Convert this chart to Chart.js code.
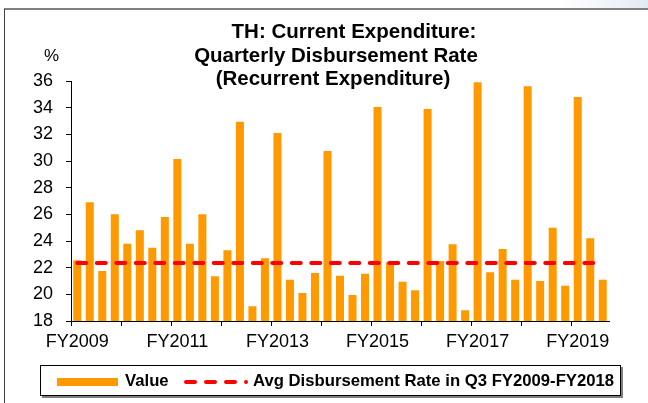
<!DOCTYPE html>
<html>
<head>
<meta charset="utf-8">
<script src="https://cdn.jsdelivr.net/npm/chart.js@4"></script>
<style>
    body { margin: 0; background: #fff; }
    #wrap { position: relative; width: 648px; height: 403px; overflow: hidden; font-family: 'Liberation Sans', Arial, sans-serif; }
    #chart { position: absolute; left: 0; top: 0; }
    .title-line { position: absolute; width: 400px; text-align: center; font-weight: bold; font-size: 20.5px; line-height: 23px; color: #000; white-space: nowrap; }
    .unit { position: absolute; left: 44px; top: 46px; font-size: 17px; color: #000; }
    .legend { position: absolute; left: 40px; top: 365px; width: 579px; height: 29px; border: 1px solid #000; box-shadow: 2px 2px 0 #7f7f7f; background: #fff; }
    .legend .swatch { position: absolute; left: 16px; top: 12px; width: 61px; height: 8px; background: #FF9900; }
    .legend .txt { position: absolute; top: 5px; font-size: 16.7px; font-weight: bold; color: #000; white-space: nowrap; }
    .legend svg { position: absolute; left: 142px; top: 11px; }
</style>
</head>
<body>
<div id="wrap">
    <canvas id="chart" width="648" height="403"></canvas>
    <div class="title-line" style="left: 154px; top: 19px;">TH: Current Expenditure:</div>
    <div class="title-line" style="left: 136px; top: 43px;">Quarterly Disbursement Rate</div>
    <div class="title-line" style="left: 133px; top: 66px;">(Recurrent Expenditure)</div>
    <div class="unit">%</div>
    <div class="legend">
        <div class="swatch"></div>
        <div class="txt" style="left: 84px;">Value</div>
        <svg width="66" height="10"><line x1="3" y1="5" x2="63.01" y2="5" stroke="#FF0000" stroke-width="4" stroke-linecap="round" stroke-dasharray="9 11"/></svg>
        <div class="txt" style="left: 212px;">Avg Disbursement Rate in Q3 FY2009-FY2018</div>
    </div>
</div>
<script>
// quarters FY2009 Q1 .. FY2019 Q3
const categories = [
    'FY2009 Q1', 'FY2009 Q2', 'FY2009 Q3', 'FY2009 Q4',
    'FY2010 Q1', 'FY2010 Q2', 'FY2010 Q3', 'FY2010 Q4',
    'FY2011 Q1', 'FY2011 Q2', 'FY2011 Q3', 'FY2011 Q4',
    'FY2012 Q1', 'FY2012 Q2', 'FY2012 Q3', 'FY2012 Q4',
    'FY2013 Q1', 'FY2013 Q2', 'FY2013 Q3', 'FY2013 Q4',
    'FY2014 Q1', 'FY2014 Q2', 'FY2014 Q3', 'FY2014 Q4',
    'FY2015 Q1', 'FY2015 Q2', 'FY2015 Q3', 'FY2015 Q4',
    'FY2016 Q1', 'FY2016 Q2', 'FY2016 Q3', 'FY2016 Q4',
    'FY2017 Q1', 'FY2017 Q2', 'FY2017 Q3', 'FY2017 Q4',
    'FY2018 Q1', 'FY2018 Q2', 'FY2018 Q3', 'FY2018 Q4',
    'FY2019 Q1', 'FY2019 Q2', 'FY2019 Q3'
];

const values = [
    22.55, 26.9, 21.75, 26.0,
    23.8, 24.8, 23.5, 25.8,
    30.15, 23.8, 26.0, 21.35,
    23.3, 32.95, 19.1, 22.7,
    32.1, 21.1, 20.1, 21.6,
    30.75, 21.4, 19.95, 21.55,
    34.05, 22.4, 20.95, 20.3,
    33.9, 22.5, 23.75, 18.8,
    35.9, 21.65, 23.4, 21.1,
    35.6, 21.0, 25.0, 20.65,
    34.8, 24.2, 21.1
];

const avgRate = 22.35;
const avgLine = categories.map(() => avgRate);

const xTickLabels = ['FY2009', 'FY2011', 'FY2013', 'FY2015', 'FY2017', 'FY2019'];
const yMin = 18;
const yMax = 36;
const yStep = 2;

const FONT = "'Liberation Sans', Arial, sans-serif";

const framePlugin = {
    id: 'frame',
    beforeDraw(chart) {
        const ctx = chart.ctx;
        ctx.save();
        const g = ctx.createLinearGradient(560, 0, 648, 0);
        g.addColorStop(0, '#ffffff');
        g.addColorStop(1, '#e4eaf4');
        ctx.fillStyle = g;
        ctx.fillRect(560, 0, 88, 8);
        ctx.strokeStyle = '#808080';
        ctx.lineWidth = 2;
        ctx.beginPath();
        ctx.moveTo(4, 9);
        ctx.lineTo(648, 9);
        ctx.stroke();
        ctx.strokeStyle = '#404040';
        ctx.lineWidth = 1;
        ctx.beginPath();
        ctx.moveTo(4.5, 9);
        ctx.lineTo(4.5, 403);
        ctx.stroke();
        ctx.restore();
    }
};

new Chart(document.getElementById('chart'), {
    data: {
        labels: categories,
        datasets: [
            {
                type: 'line',
                label: 'Avg Disbursement Rate in Q3 FY2009-FY2018',
                data: avgLine,
                borderColor: '#FF0000',
                borderWidth: 4,
                borderDash: [9, 10.5],
                borderCapStyle: 'round',
                pointRadius: 0,
                order: 0
            },
            {
                type: 'bar',
                label: 'Value',
                data: values,
                backgroundColor: '#FF9900',
                categoryPercentage: 1,
                barPercentage: 0.64,
                order: 1
            }
        ]
    },
    options: {
        responsive: false,
        animation: false,
        layout: { padding: { left: 0, top: 81, right: 39, bottom: 0 } },
        plugins: {
            legend: { display: false },
            title: { display: false },
            tooltip: { enabled: false }
        },
        scales: {
            x: {
                grid: {
                    offset: true,
                    drawOnChartArea: false,
                    tickLength: 5,
                    color: ctx => ctx.index % 4 === 0 ? '#000' : 'rgba(0,0,0,0)'
                },
                border: { color: '#000', width: 1 },
                ticks: {
                    autoSkip: false,
                    maxRotation: 0,
                    padding: 5,
                    color: '#000',
                    font: { family: FONT, size: 18 },
                    callback: (v, i) => i % 8 === 0 ? xTickLabels[i / 8] : ''
                },
                afterFit: scale => { scale.height = 82; }
            },
            y: {
                min: yMin,
                max: yMax,
                grid: { drawOnChartArea: false, tickLength: 5, color: '#000' },
                border: { color: '#000', width: 1 },
                ticks: {
                    stepSize: yStep,
                    padding: 13,
                    color: '#000',
                    font: { family: FONT, size: 18 }
                },
                afterFit: scale => { scale.width = 71; }
            }
        }
    },
    plugins: [framePlugin]
});
</script>
</body>
</html>
